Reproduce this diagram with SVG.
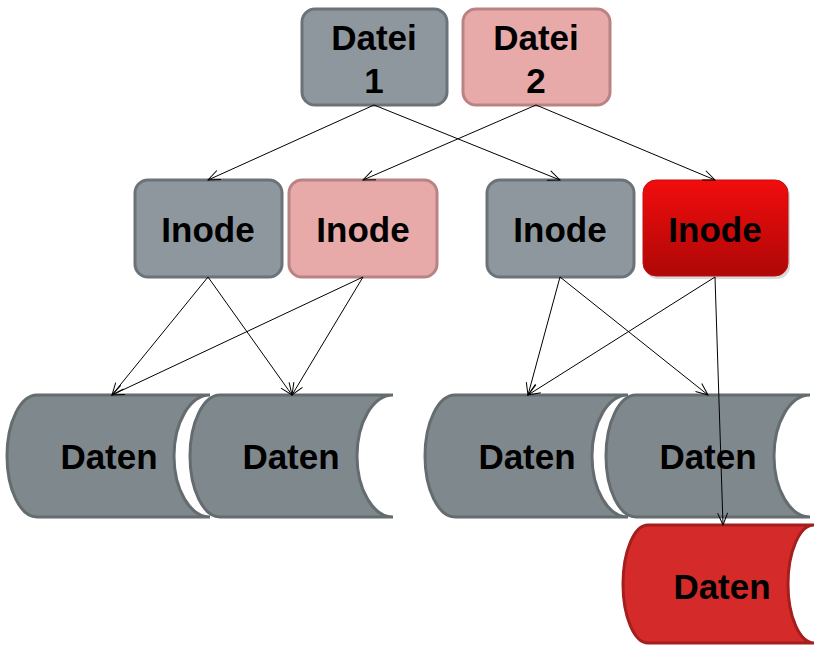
<svg xmlns="http://www.w3.org/2000/svg" width="814" height="645" viewBox="0 0 814 645">
<defs>
<marker id="arr" markerWidth="14" markerHeight="12" refX="13" refY="6" orient="auto" markerUnits="userSpaceOnUse">
<path d="M1,1 L13,6 L1,11" fill="none" stroke="#000" stroke-width="1"/>
</marker>
<linearGradient id="redg" x1="0" y1="0" x2="0" y2="1">
<stop offset="0" stop-color="#F20D0D"/>
<stop offset="1" stop-color="#AE0707"/>
</linearGradient>
<style>
.gray{fill:#8E979D;stroke:#6B7378;stroke-width:3}
.pink{fill:#E8A9A9;stroke:#B98383;stroke-width:3}
.red{fill:url(#redg);stroke:#C01010;stroke-width:1}
.dgray{fill:#7F888D;stroke:#656C70;stroke-width:3}
.dred{fill:#D42A2A;stroke:#A51E1E;stroke-width:3}
.t{font-family:"Liberation Sans",Arial,sans-serif;font-weight:bold;font-size:35px;fill:#000;text-anchor:middle}
.c line{stroke:#000;stroke-width:1;marker-end:url(#arr)}
</style>
</defs>
<rect width="814" height="645" fill="#fff"/>
<g id="datei1"><rect class="gray" x="302" y="9" width="145" height="96" rx="13"/><text class="t" x="374" y="50">Datei</text><text class="t" x="374" y="93">1</text></g>
<g id="datei2"><rect class="pink" x="463" y="9" width="147" height="96" rx="13"/><text class="t" x="536" y="50">Datei</text><text class="t" x="536" y="93">2</text></g>
<g id="inode1"><rect class="gray" x="135" y="180" width="147" height="97" rx="13"/><text class="t" x="208" y="242">Inode</text></g>
<g id="inode2"><rect class="pink" x="289" y="180" width="148" height="97" rx="13"/><text class="t" x="363" y="242">Inode</text></g>
<g id="inode3"><rect class="gray" x="487" y="180" width="147" height="97" rx="13"/><text class="t" x="560" y="242">Inode</text></g>
<g id="inode4"><rect x="645" y="183" width="145" height="96" rx="13" fill="#000" opacity="0.15"/><rect class="red" x="643" y="180" width="145" height="96" rx="13"/><text class="t" x="715" y="242">Inode</text></g>
<g id="daten1"><path class="dgray" d="M37,395 L210,395 A36,61 0 0 0 210,517 L37,517 A30,61 0 0 1 37,395 Z"/><text class="t" x="109" y="469">Daten</text></g>
<g id="daten2"><path class="dgray" d="M220,395 L393,395 A36,61 0 0 0 393,517 L220,517 A30,61 0 0 1 220,395 Z"/><text class="t" x="291" y="469">Daten</text></g>
<g id="daten3"><path class="dgray" d="M455,395 L628,395 A36,61 0 0 0 628,517 L455,517 A30,61 0 0 1 455,395 Z"/><text class="t" x="527" y="469">Daten</text></g>
<g id="daten4"><path class="dgray" d="M636,395 L810,395 A36,61 0 0 0 810,517 L636,517 A30,61 0 0 1 636,395 Z"/><text class="t" x="708" y="469">Daten</text></g>
<g id="daten5"><path class="dred" d="M648,525 L814,525 A26,59 0 0 0 814,643 L648,643 A25,59 0 0 1 648,525 Z"/><text class="t" x="722" y="599">Daten</text></g>
<g class="c" id="connectors">
<line x1="374" y1="105" x2="208" y2="180"/>
<line x1="374" y1="105" x2="560" y2="180"/>
<line x1="536" y1="105" x2="363" y2="180"/>
<line x1="536" y1="105" x2="715" y2="180"/>
<line x1="208" y1="277" x2="112" y2="395"/>
<line x1="208" y1="277" x2="292" y2="395"/>
<line x1="363" y1="277" x2="112" y2="395"/>
<line x1="363" y1="277" x2="292" y2="395"/>
<line x1="560" y1="277" x2="528" y2="395"/>
<line x1="560" y1="277" x2="708" y2="395"/>
<line x1="715" y1="277" x2="528" y2="395"/>
<line x1="715" y1="277" x2="723" y2="525"/>
</g>
</svg>
